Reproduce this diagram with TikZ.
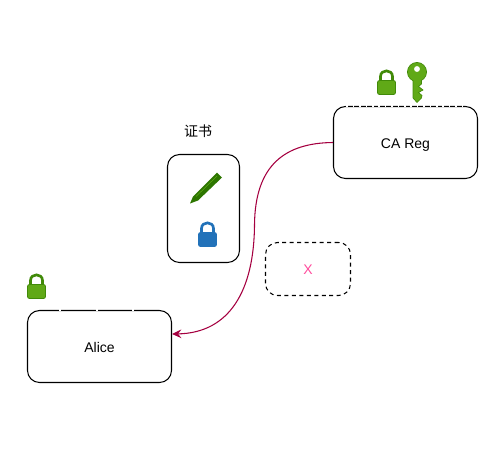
\documentclass[tikz,border=0pt]{standalone}
\usepackage{fontspec}
\setmainfont{Liberation Sans}
\newfontfamily\cjk{Noto Sans CJK SC}
\usetikzlibrary{arrows.meta,positioning}
\definecolor{lockgreen}{HTML}{60A917}
\definecolor{darkgreen}{HTML}{2D7600}
\definecolor{lockblue}{HTML}{2272B9}
\definecolor{curvered}{HTML}{A50040}
\definecolor{xpink}{HTML}{FF4D9D}
\tikzset{
  box/.style={draw, line width=0.8pt, rounded corners=9pt, inner sep=0pt, text height=10pt, text depth=1pt, font=\fontsize{10.5pt}{12pt}\selectfont},
  topgap/.style={white, line width=1.5pt, dash pattern=on 1.2pt off 3.6pt}
}
% lock icon: left, top, fill, border
\newcommand{\lockicon}[4]{
  \begin{scope}[shift={(#1,#2)}]
    \draw[#4, line width=2pt] (3.5,11) -- (3.5,6.5) .. controls (3.5,-1) and (15.5,-1) .. (15.5,6.5) -- (15.5,11);
    \fill[#3, draw=#4, line width=0.6pt, rounded corners=1.5pt] (0.5,10.5) rectangle (18.5,24.5);
  \end{scope}
}
\begin{document}
\begin{tikzpicture}[x=0.75pt, y=-0.75pt]
  \useasboundingbox (0,0) rectangle (500,475);

  % Boxes
  \node [box, minimum width=108pt, minimum height=54pt] (alice) at (99.5,346.5) {Alice};
  \node [box, minimum width=108pt, minimum height=54pt] (careg) at (405.5,142.5) {CA Reg};
  \node [box, minimum width=54pt, minimum height=81pt] (cert) at (203.5,208.5) {};
  \node [box, dash pattern=on 3pt off 2.6pt, minimum width=63.75pt, minimum height=39.75pt, text=xpink, text depth=1.7pt] (xbox) at (308,269) {X};
  \node [font=\cjk\fontsize{10.5pt}{12pt}\selectfont] (certlabel) at (198,131) {证书};

  % Dashes along the top edges
  \draw [topgap] ([xshift=10pt]careg.north west) -- ([xshift=-10pt]careg.north east);
  \draw [topgap, dash pattern=on 1.5pt off 26pt] ([xshift=24pt]alice.north west) -- ([xshift=-6pt]alice.north east);

  % Icons
  \lockicon{377}{70}{lockgreen}{darkgreen!60!lockgreen}
  \lockicon{27}{274}{lockgreen}{darkgreen!60!lockgreen}
  \lockicon{198}{222}{lockblue}{lockblue}

  % Key
  \fill [lockgreen, draw=darkgreen!60!lockgreen, line width=0.5pt] (417,72) circle [radius=7.2pt];
  \fill [lockgreen, draw=darkgreen!60!lockgreen, line width=0.5pt] (413,80) -- (413,98) -- (417,102.5) -- (421.5,98) -- (422,95.5) -- (418.5,92.5) -- (423,90)
    -- (418.5,86.5) -- (421.5,84) -- (421.5,80);
  \fill [lockgreen] (413.5,76) rectangle (421,84);
  \fill [white] (417,69) circle [radius=2.2pt];

  % Pen
  \fill [darkgreen] (190,203.5) -- (193,196.5) -- (217,172.5) -- (222,177.5) -- (198,200.5) -- cycle;
  \draw [lockgreen, line width=0.4pt] (196,196.5) -- (217,176);

  % Issued certificate
  \draw [curvered, line width=0.8pt, -{Stealth[length=7pt, width=6.5pt, inset=2.5pt]}]
    (careg.west) .. controls (285,143) and (255,165) .. (254.5,225)
    .. controls (254,290) and (230,333) .. (alice.east |- 0,334);
\end{tikzpicture}
\end{document}
